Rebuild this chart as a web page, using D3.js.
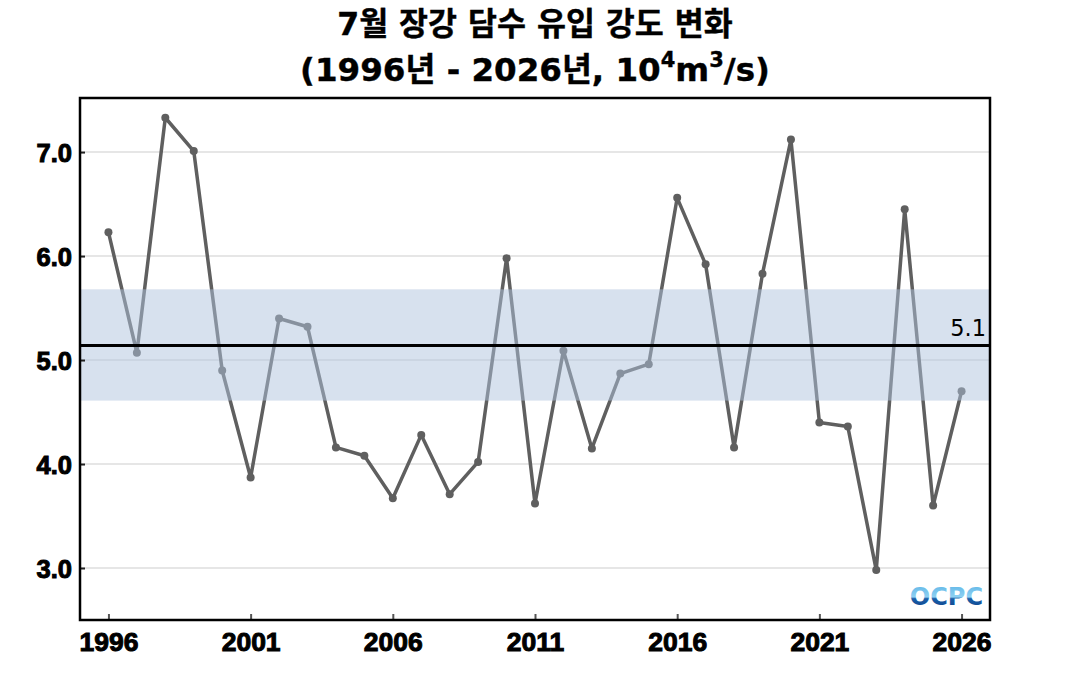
<!DOCTYPE html>
<html><head><meta charset="utf-8">
<script src="https://cdn.jsdelivr.net/npm/d3@7"></script>
<style>body{margin:0;background:#fff}</style>
</head><body>
<svg id="c" width="1070" height="700"></svg>
<script>
const years = d3.range(1996, 2027);
const values = [6.23, 5.07, 7.33, 7.01, 4.90, 3.87, 5.40, 5.32, 4.16, 4.08,
  3.67, 4.28, 3.71, 4.02, 5.98, 3.62, 5.09, 4.15, 4.87, 4.96,
  6.56, 5.92, 4.16, 5.83, 7.12, 4.40, 4.36, 2.98, 6.45, 3.60, 4.70];
const meanValue = 5.14;
const bandRange = [4.61, 5.68];
const xTicks = [1996, 2001, 2006, 2011, 2016, 2021, 2026];
const yTicks = [3.0, 4.0, 5.0, 6.0, 7.0];
const titleLine1 = "7월 장강 담수 유입 강도 변화";

const font = "'DejaVu Sans','Noto Sans CJK KR',sans-serif";
const tickFont = "'Liberation Sans',Arial,sans-serif";
const svg = d3.select("#c");
const m = {l: 80, r: 990, t: 98, b: 620};
const x = d3.scaleLinear().domain([1995, 2027]).range([m.l, m.r]);
const y = d3.scaleLinear().domain([2.5, 7.52]).range([m.b, m.t]);

// title
const t = svg.append("g").attr("font-family", font).attr("font-weight", "bold")
  .attr("text-anchor", "middle").attr("fill", "#000").attr("stroke", "#000").attr("stroke-width", 0.4);
t.append("text").attr("x", 535).attr("y", 35).attr("font-size", 31.5).text(titleLine1);
const t2 = t.append("text").attr("x", 535).attr("y", 81).attr("font-size", 32.5);
t2.append("tspan").text("(1996년 - 2026년, 10");
t2.append("tspan").attr("dy", -14).attr("font-size", 21).text("4");
t2.append("tspan").attr("dy", 14).text("m");
t2.append("tspan").attr("dy", -14).attr("font-size", 21).text("3");
t2.append("tspan").attr("dy", 14).text("/s)");

// gridlines
svg.append("g").selectAll("line").data(yTicks).join("line")
  .attr("x1", m.l).attr("x2", m.r).attr("y1", d => y(d)).attr("y2", d => y(d))
  .attr("stroke", "#e6e6e6").attr("stroke-width", 2);

// data line
const line = d3.line().x((d, i) => x(years[i])).y(d => y(d));
svg.append("path").datum(values).attr("d", line).attr("fill", "none")
  .attr("stroke", "#5f5f5f").attr("stroke-width", 3.5).attr("stroke-linejoin", "round");
svg.append("g").selectAll("circle").data(values).join("circle")
  .attr("cx", (d, i) => x(years[i])).attr("cy", d => y(d)).attr("r", 4)
  .attr("fill", "#5f5f5f");

// band
svg.append("rect").attr("x", m.l).attr("width", m.r - m.l)
  .attr("y", y(bandRange[1])).attr("height", y(bandRange[0]) - y(bandRange[1]))
  .attr("fill", "rgb(176,196,222)").attr("fill-opacity", 0.5);

// mean line
svg.append("line").attr("x1", m.l).attr("x2", m.r)
  .attr("y1", y(meanValue)).attr("y2", y(meanValue))
  .attr("stroke", "#000").attr("stroke-width", 3);
svg.append("text").attr("x", m.r - 4).attr("y", y(meanValue) - 9)
  .attr("text-anchor", "end").attr("font-family", font).attr("font-size", 22.5)
  .text(d3.format(".1f")(meanValue));

// axes
const yAxis = svg.append("g").attr("transform", `translate(${m.l},0)`)
  .call(d3.axisLeft(y).tickValues(yTicks).tickFormat(d3.format(".1f")).tickSizeInner(-5).tickSizeOuter(0).tickPadding(8));
yAxis.select(".domain").remove();
yAxis.selectAll("line").attr("stroke", "#222").attr("stroke-width", 2);
yAxis.selectAll("text").attr("font-family", tickFont).attr("font-weight", "bold").attr("font-size", 25.5)
  .attr("fill", "#000").attr("stroke", "#000").attr("stroke-width", 1).attr("dy", "0.36em");

const xAxis = svg.append("g").attr("transform", `translate(0,${m.b})`)
  .call(d3.axisBottom(x).tickValues(xTicks).tickFormat(d3.format("d")).tickSizeInner(-6).tickSizeOuter(0).tickPadding(12));
xAxis.select(".domain").remove();
xAxis.selectAll("line").attr("stroke", "#555").attr("stroke-width", 2);
xAxis.selectAll("text").attr("font-family", tickFont).attr("font-weight", "bold").attr("font-size", 26.5)
  .attr("fill", "#000").attr("stroke", "#000").attr("stroke-width", 1);

// frame
svg.append("rect").attr("x", m.l).attr("y", m.t).attr("width", m.r - m.l).attr("height", m.b - m.t)
  .attr("fill", "none").attr("stroke", "#000").attr("stroke-width", 2.5);

// logo
const defs = svg.append("defs");
const g = defs.append("linearGradient").attr("id", "lg").attr("x1", 0).attr("x2", 0).attr("y1", 0).attr("y2", 1);
g.append("stop").attr("offset", "0%").attr("stop-color", "#5ab4e6");
g.append("stop").attr("offset", "50%").attr("stop-color", "#8fd0f2");
g.append("stop").attr("offset", "56%").attr("stop-color", "#1a5ea8");
g.append("stop").attr("offset", "100%").attr("stop-color", "#0b3f86");
svg.append("text").attr("x", 983).attr("y", 605).attr("text-anchor", "end")
  .attr("font-family", font).attr("font-weight", "bold").attr("font-size", 24)
  .attr("fill", "url(#lg)").text("OCPC");
</script>
</body></html>
